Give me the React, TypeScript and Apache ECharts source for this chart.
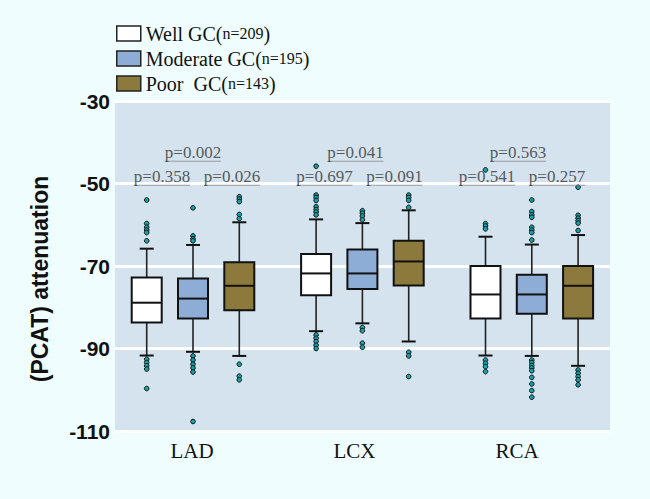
import React, { useEffect, useRef } from "react";
import * as echarts from "echarts";

const categories = ["LAD", "LCX", "RCA"];
const groupNames = ["Well GC(n=209)", "Moderate GC(n=195)", "Poor  GC(n=143)"];
const groupFills = ["#ffffff", "#8dadd6", "#8b7a3b"];

// per category: [lower whisker, Q1, median, Q3, upper whisker]
const wellBox = [
  [-91.7, -83.7, -78.9, -72.8, -65.8],
  [-85.8, -77.1, -71.8, -67.1, -58.7],
  [-91.7, -82.7, -76.9, -70.0, -62.9],
];
const moderateBox = [
  [-90.8, -82.7, -77.9, -73.0, -64.9],
  [-83.9, -75.6, -71.8, -66.0, -59.6],
  [-91.8, -81.6, -76.9, -72.1, -64.8],
];
const poorBox = [
  [-91.8, -80.7, -74.8, -69.1, -59.4],
  [-88.3, -74.7, -68.9, -63.9, -56.5],
  [-94.2, -82.7, -74.8, -70.0, -62.5],
];

// outliers per category
const wellOutliers = [
  [-54.0, -59.7, -60.6, -61.3, -61.9, -63.9, -92.6, -93.4, -94.2, -95.0, -99.7],
  [-45.8, -52.8, -53.4, -54.1, -55.6, -56.3, -56.9, -57.6, -86.7, -87.5, -88.3, -89.2, -90.0],
  [-46.7, -59.7, -60.3, -61.0, -92.8, -93.6, -94.4, -95.6],
];
const moderateOutliers = [
  [-55.9, -62.7, -63.4, -63.9, -91.8, -92.8, -93.8, -94.7, -95.7, -107.7],
  [-56.6, -57.2, -57.9, -58.8, -84.9, -85.7, -88.7, -89.7],
  [-54.0, -56.8, -57.6, -58.2, -60.6, -61.3, -61.9, -63.7, -92.8, -93.4, -94.1, -94.7, -95.4, -97.0, -98.6, -100.2, -101.8],
];
const poorOutliers = [
  [-53.2, -53.8, -54.4, -57.5, -58.5, -93.8, -96.7, -97.6],
  [-52.8, -53.4, -54.1, -55.8, -90.9, -91.8, -96.8],
  [-50.9, -57.7, -58.4, -59.0, -59.6, -61.4, -95.2, -96.0, -96.8, -97.6, -98.8],
];

const pTop = ["p=0.002", "p=0.041", "p=0.563"];
const pLeft = ["p=0.358", "p=0.697", "p=0.541"];
const pRight = ["p=0.026", "p=0.091", "p=0.257"];
const pTopLevel = -44.6;
const pLowLevel = -50.4;

const yTicks = { min: -110, max: -30, interval: 20 };

const SHIFT = 0.2733;

function boxSeries(name: string, fill: string, data: number[][], k: number) {
  return {
    type: "custom",
    name,
    xAxisIndex: 1,
    yAxisIndex: 1,
    itemStyle: { color: fill, borderColor: "#111", borderWidth: 1.5 },
    encode: { x: 0, y: [1, 2, 3, 4, 5] },
    data: data.map((d, i) => [i, ...d]),
    renderItem: (params: any, api: any) => {
      const cat = api.value(0);
      const band = api.size([1, 0])[0];
      const cx = api.coord([cat, api.value(3)])[0] + k * band * SHIFT;
      const y = (idx: number) => api.coord([cat, api.value(idx)])[1];
      const yMin = y(1), yQ1 = y(2), yMed = y(3), yQ3 = y(4), yMax = y(5);
      const hw = 15, cw = 7;
      const ls = { stroke: "#222", lineWidth: 1.6 };
      return {
        type: "group",
        children: [
          { type: "line", shape: { x1: cx, y1: yMax, x2: cx, y2: yQ3 }, style: ls },
          { type: "line", shape: { x1: cx, y1: yQ1, x2: cx, y2: yMin }, style: ls },
          { type: "line", shape: { x1: cx - cw, y1: yMax, x2: cx + cw, y2: yMax }, style: { stroke: "#111", lineWidth: 2 } },
          { type: "line", shape: { x1: cx - cw, y1: yMin, x2: cx + cw, y2: yMin }, style: { stroke: "#111", lineWidth: 2 } },
          { type: "rect", shape: { x: cx - hw, y: yQ3, width: 2 * hw, height: yQ1 - yQ3 }, style: { fill, stroke: "#111", lineWidth: 2 } },
          { type: "line", shape: { x1: cx - hw, y1: yMed, x2: cx + hw, y2: yMed }, style: { stroke: "#111", lineWidth: 2 } },
        ],
      };
    },
  };
}

function outlierSeries(data: number[][], k: number) {
  const pts: number[][] = [];
  data.forEach((vals, i) => vals.forEach((v) => pts.push([i, v])));
  return {
    type: "custom",
    xAxisIndex: 1,
    yAxisIndex: 1,
    encode: { x: 0, y: 1 },
    data: pts,
    renderItem: (params: any, api: any) => {
      const band = api.size([1, 0])[0];
      const p = api.coord([api.value(0), api.value(1)]);
      return {
        type: "circle",
        shape: { cx: p[0] + k * band * SHIFT, cy: p[1], r: 2.3 },
        style: { fill: "#14a3aa", stroke: "#111", lineWidth: 1 },
      };
    },
  };
}

function pSeries(texts: string[], level: number, dx: number) {
  return {
    type: "scatter",
    xAxisIndex: 2,
    yAxisIndex: 2,
    symbol: "rect",
    symbolSize: [56, 1],
    symbolOffset: [dx, 0],
    itemStyle: { color: "#8a8a8a" },
    silent: true,
    data: texts.map((t, i) => ({ value: [i, level], name: t })),
    label: {
      show: true,
      position: "top",
      distance: 0,
      formatter: "{b}",
      fontFamily: "Liberation Serif",
      fontSize: 17,
      color: "#333",
    },
  };
}

const GRID_TOP = 101;
const GRID_H = 330;

export default function App() {
  const ref = useRef<HTMLDivElement>(null);
  useEffect(() => {
    const chart = echarts.init(ref.current!, null, { renderer: "svg" });
    const hiddenY = (gi: number) => ({
      type: "value",
      gridIndex: gi,
      min: yTicks.min,
      max: yTicks.max,
      interval: yTicks.interval,
      show: false,
      splitLine: { show: false },
    });
    const option: any = {
      animation: false,
      backgroundColor: "#effdfe",
      grid: [
        { left: 115, top: GRID_TOP, width: 495, height: GRID_H, show: true, backgroundColor: "#d4e3ee", borderWidth: 0 },
        { left: 108.3, top: GRID_TOP, width: 508.2, height: GRID_H },
        { left: 110.75, top: GRID_TOP, width: 487.5, height: GRID_H },
      ],
      xAxis: [
        { type: "category", gridIndex: 0, data: categories, show: false },
        { type: "category", gridIndex: 1, data: categories, show: false },
        {
          type: "category",
          gridIndex: 2,
          data: categories,
          axisLine: { show: false },
          axisTick: { show: false },
          splitLine: { show: false },
          axisLabel: { fontFamily: "Liberation Serif", fontSize: 21, color: "#111", margin: 9 },
        },
      ],
      yAxis: [
        {
          type: "value",
          gridIndex: 0,
          min: yTicks.min,
          max: yTicks.max,
          interval: yTicks.interval,
          axisLine: { show: false },
          axisTick: { show: false },
          axisLabel: {
            fontFamily: "Liberation Sans",
            fontWeight: "bold",
            fontSize: 21,
            color: "#111",
            margin: 5,
            padding: [3, 0, 0, 0],
          },
          splitLine: { show: true, lineStyle: { color: "#ffffff", width: 3 } },
        },
        hiddenY(1),
        hiddenY(2),
      ],
      legend: {
        orient: "vertical",
        left: 111,
        top: 18.5,
        itemWidth: 24,
        itemHeight: 15,
        itemGap: 5,
        data: groupNames.map((n, i) => ({
          name: n,
          icon: "rect",
          itemStyle: { color: groupFills[i], borderColor: "#222", borderWidth: 1.5 },
        })),
        formatter: (name: string) => {
          const m = name.match(/^(.*GC\()(n=\d+)(\))$/);
          if (!m) return name;
          return `{a|${m[1]}}{b|${m[2]}}{a|)}`;
        },
        textStyle: {
          color: "#111",
          rich: {
            a: { fontFamily: "Liberation Serif", fontSize: 20, lineHeight: 20, color: "#111" },
            b: { fontFamily: "Liberation Serif", fontSize: 16, lineHeight: 20, color: "#111" },
          },
        },
      },
      graphic: [
        {
          type: "text",
          x: 40,
          y: 279,
          rotation: Math.PI / 2,
          style: {
            text: "(PCAT) attenuation",
            fontFamily: "Liberation Sans",
            fontWeight: "bold",
            fontSize: 23,
            fill: "#111",
            align: "center",
            verticalAlign: "middle",
          },
        },
      ],
      series: [
        boxSeries(groupNames[0], groupFills[0], wellBox, -1),
        boxSeries(groupNames[1], groupFills[1], moderateBox, 0),
        boxSeries(groupNames[2], groupFills[2], poorBox, 1),
        outlierSeries(wellOutliers, -1),
        outlierSeries(moderateOutliers, 0),
        outlierSeries(poorOutliers, 1),
        pSeries(pTop, pTopLevel, 1),
        pSeries(pLeft, pLowLevel, -30),
        pSeries(pRight, pLowLevel, 40),
      ],
    };
    chart.setOption(option);
    return () => chart.dispose();
  }, []);
  return <div ref={ref} style={{ position: "absolute", left: 0, top: 0, width: 650, height: 499 }} />;
}
